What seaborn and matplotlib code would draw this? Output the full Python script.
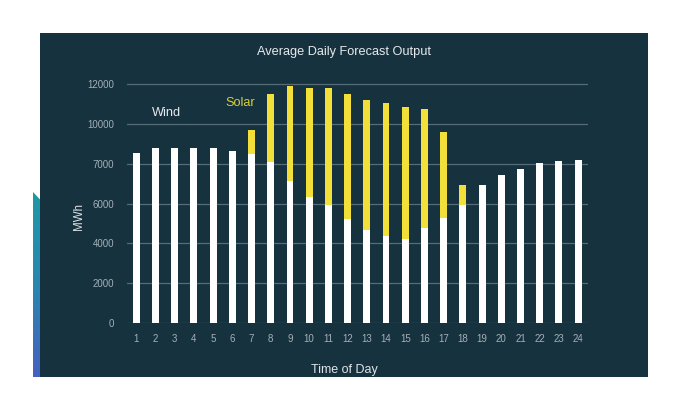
import numpy as np
import pandas as pd
import matplotlib
matplotlib.use("Agg")
import matplotlib.pyplot as plt
from matplotlib.patches import Polygon
import seaborn as sns

hours = [str(h) for h in range(1, 25)]
wind = [8560, 8770, 8810, 8790, 8810, 8650, 8490, 8100, 7150, 6350, 5930, 5210,
        4670, 4370, 4230, 4770, 5265, 5930, 6940, 7440, 7730, 8060, 8130, 8180]
solar = [0, 0, 0, 0, 0, 0, 1220, 3420, 4740, 5470, 5860, 6300,
         6550, 6710, 6620, 6000, 4335, 1010, 0, 0, 0, 0, 0, 0]
ytick_values = [0, 2000, 4000, 6000, 8000, 10000, 12000]
ytick_labels = ["0", "2000", "4000", "6000", "7000", "10000", "12000"]

df = pd.DataFrame({"hour": hours, "wind": wind, "solar": solar})
df["total"] = df["wind"] + df["solar"]

sns.set_theme(style="white")
plt.rcParams['font.family'] = ['Liberation Sans', 'DejaVu Sans']

BG = "#17323f"
W, H = 673, 396
fig = plt.figure(figsize=(W / 100, H / 100), dpi=100, facecolor="white")

# dark panel as a background axes
bax = fig.add_axes([40 / W, (H - 377) / H, (648 - 40) / W, (377 - 33) / H], zorder=-5)
bax.set_facecolor(BG)
bax.set_xticks([]); bax.set_yticks([])
for s in bax.spines.values():
    s.set_visible(False)

# blue gradient strip on the left
sax = fig.add_axes([33 / W, (H - 377) / H, 7 / W, (377 - 192) / H], zorder=-4)
grad = np.linspace(0, 1, 100).reshape(-1, 1)
cmap = matplotlib.colors.LinearSegmentedColormap.from_list("s", ["#1e98a6", "#2a86b0", "#4660c0"])
im = sax.imshow(grad, aspect="auto", cmap=cmap, extent=(0, 1, 1, 0))
poly = Polygon([(0, 1), (0, 0), (1, 0.04), (1, 1)], closed=True, transform=sax.transData)
im.set_clip_path(poly)
sax.set_xlim(0, 1); sax.set_ylim(1, 0)
sax.axis("off")

# main axes
y0_px, y12_px = 322.7, 84.3
ytop = 12400
ax_h_px = (y0_px - y12_px) * ytop / 12000
ax = fig.add_axes([126.7 / W, (H - y0_px) / H, (587.7 - 126.7) / W, ax_h_px / H], zorder=1)
ax.patch.set_alpha(0)

sns.barplot(data=df, x="hour", y="total", color="#f2df3a", width=0.36,
            saturation=1, ax=ax, zorder=3, linewidth=0)
sns.barplot(data=df, x="hour", y="wind", color="white", width=0.36,
            saturation=1, ax=ax, zorder=4, linewidth=0)

ax.set_xlim(-0.5, 23.5)
ax.set_ylim(0, ytop)
ax.set_yticks(ytick_values)
ax.set_yticklabels(ytick_labels)
for v in ytick_values:
    ax.axhline(v, color="#566d77", lw=0.9, zorder=1)
for s in ax.spines.values():
    s.set_visible(False)
ax.tick_params(axis="both", length=0, colors="#a3b0b6", labelsize=7)
ax.tick_params(axis="y", pad=9)
ax.tick_params(axis="x", pad=8)
ax.set_xlabel("")
ax.set_ylabel("")

fig.text(79 / W, 1 - 217 / H, "MWh", rotation=90, ha="center", va="center",
         color="#dfe4e6", fontsize=8.3)
fig.text(344 / W, 1 - 370 / H, "Time of Day", ha="center", va="center",
         color="#dfe4e6", fontsize=9)
fig.text(344 / W, 1 - 52 / H, "Average Daily Forecast Output", ha="center", va="center",
         color="#e6eaec", fontsize=9.2)
fig.text(152 / W, 1 - 113 / H, "Wind", ha="left", va="center", color="#e6eaec", fontsize=9.2)
fig.text(225 / W, 1 - 103 / H, "Solar", ha="left", va="center", color="#d6cf3a", fontsize=9.2)

fig.savefig("out.png", dpi=100, facecolor="white")
